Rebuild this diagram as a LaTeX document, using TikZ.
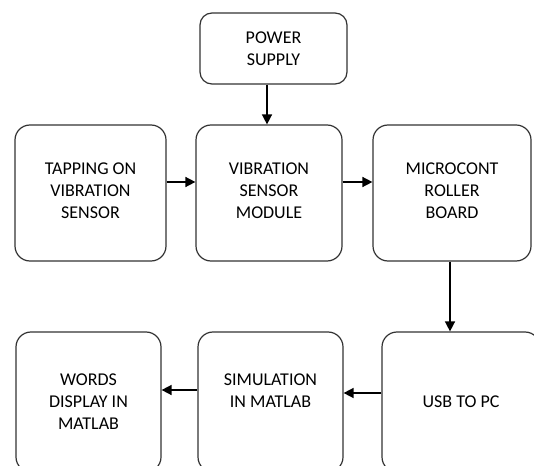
\documentclass[tikz,border=0pt]{standalone}
\usepackage{fontspec}
\setmainfont{Carlito}
\usetikzlibrary{arrows.meta,calc}
\newcommand{\pushdown}{\mbox{}\\[-14bp]}
\tikzset{
  blk/.style={draw=black!80, line width=1.2bp, rounded corners=15bp, align=center,
    font=\fontsize{18bp}{22bp}\selectfont, inner sep=0pt},
  arr/.style={draw=black, line width=1.5bp, -{Triangle[length=10bp,width=10bp]}}
}
\begin{document}
\begin{tikzpicture}[x=1bp,y=-1bp]
\useasboundingbox (0,0) rectangle (534,466);
\clip (0,0) rectangle (534,466);
\fill[white] (0,0) rectangle (534,466);
\node[blk, rounded corners=12bp, minimum width=147bp, minimum height=71bp] (power) at (273.5,48.5) {POWER\\SUPPLY};
\node[blk, minimum width=151bp, minimum height=136bp] (tap) at (90.5,193) {\pushdown TAPPING ON\\VIBRATION\\SENSOR};
\node[blk, minimum width=146bp, minimum height=136bp] (vib) at (269,193) {\pushdown VIBRATION\\SENSOR\\MODULE};
\node[blk, minimum width=158bp, minimum height=136bp] (micro) at (452,193) {\pushdown MICROCONT\\ROLLER\\BOARD};
\node[blk, minimum width=145bp, minimum height=140bp] (words) at (88.5,402) {WORDS\\DISPLAY IN\\MATLAB};
\node[blk, minimum width=145bp, minimum height=140bp] (sim) at (270.5,402) {SIMULATION\\IN MATLAB\\\mbox{}};
\node[blk, minimum width=158bp, minimum height=140bp] (usb) at (461,402) {USB TO PC};
\draw[arr] ([xshift=-2bp]vib.north |- power.south) -- ([xshift=-2bp]vib.north);
\draw[arr] ([yshift=11bp]tap.east) -- ([yshift=11bp]vib.west);
\draw[arr] ([yshift=11bp]vib.east) -- ([yshift=11bp]micro.west);
\draw[arr] ([xshift=-2bp]micro.south) -- ([xshift=-2bp]micro.south |- usb.north);
\draw[arr] ([yshift=9bp]usb.west) -- ([yshift=9bp]sim.east);
\draw[arr] ([yshift=12bp]sim.west) -- ([yshift=12bp]words.east);
\end{tikzpicture}
\end{document}
